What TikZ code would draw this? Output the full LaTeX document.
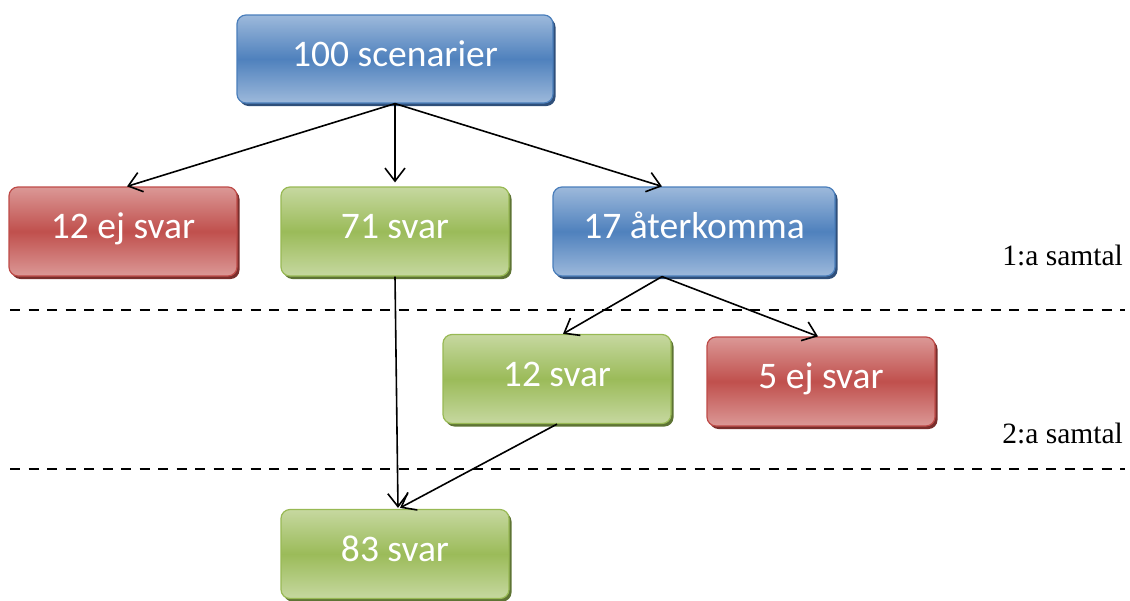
\documentclass[tikz,border=0pt]{standalone}
\usepackage{fontspec}
\setmainfont{Carlito}
\newfontfamily\timesf{Liberation Serif}
\usetikzlibrary{arrows.meta,shadows,calc}
\definecolor{bLight}{HTML}{9DB9DB}
\definecolor{bMid}{HTML}{4F81BD}
\definecolor{bBorder}{HTML}{4A7EBB}
\definecolor{bShadow}{HTML}{2F4F7A}
\definecolor{rLight}{HTML}{DB9896}
\definecolor{rMid}{HTML}{C0504D}
\definecolor{rBorder}{HTML}{BE4B48}
\definecolor{rShadow}{HTML}{7A2E2C}
\definecolor{gLight}{HTML}{C6D8A0}
\definecolor{gMid}{HTML}{9BBB59}
\definecolor{gBorder}{HTML}{98B954}
\definecolor{gShadow}{HTML}{5E7434}
\tikzset{
  box/.style={rounded corners=9pt, minimum height=89pt, minimum width=228pt, inner sep=0pt,
    text=white, font=\fontsize{37.5}{40}\selectfont, text height=25pt, text depth=11pt, line width=1.2pt},
  bluebox/.style={box, draw=bBorder, top color=bLight, bottom color=bLight, middle color=bMid,
    drop shadow={shadow xshift=2.5pt, shadow yshift=-3pt, fill=bShadow, opacity=1}},
  redbox/.style={box, draw=rBorder, top color=rLight, bottom color=rLight, middle color=rMid,
    drop shadow={shadow xshift=2.5pt, shadow yshift=-3pt, fill=rShadow, opacity=1}},
  greenbox/.style={box, draw=gBorder, top color=gLight, bottom color=gLight, middle color=gMid,
    drop shadow={shadow xshift=2.5pt, shadow yshift=-3pt, fill=gShadow, opacity=1}},
  conn/.style={line width=1.6pt, -{Straight Barb[length=13pt,width=20pt,line width=1.6pt]}},
  sep/.style={line width=2.5pt, dash pattern=on 10pt off 8.5pt},
  lbl/.style={font=\timesf\fontsize{29.5}{32}\selectfont, anchor=base east, inner sep=0pt}
}
\begin{document}
\begin{tikzpicture}[x=1pt,y=-1pt]
\useasboundingbox (0,0) rectangle (1130,600);
% separators
\coordinate (s1a) at (10,310); \coordinate (s1b) at (1125,310);
\coordinate (s2a) at (10,469); \coordinate (s2b) at (1125,469);
\draw[sep] (s1a) -- (s1b);
\draw[sep] (s2a) -- (s2b);
% boxes
\node[bluebox, minimum width=316pt, minimum height=88pt] (n100) at (395,59) {100 scenarier};
\node[redbox] (ej12) at (123,231.5) {12 ej svar};
\node[greenbox] (sv71) at (395,231.5) {71 svar};
\node[bluebox, minimum width=282pt] (at17) at (694,231.5) {17 återkomma};
\node[greenbox] (sv12) at (557,379) {12 svar};
\node[redbox] (ej5) at (821,381.5) {5 ej svar};
\node[greenbox] (sv83) at (395,554) {83 svar};
% labels
\node[lbl] (l1) at (1123,265) {1:a samtal};
\node[lbl] (l2) at (1123,443) {2:a samtal};
% connector end points
\coordinate (t1) at ([xshift=4pt]ej12.north);
\coordinate (t2) at ([yshift=4pt]sv71.north);
\coordinate (t3) at ([xshift=-32pt]at17.north);
\coordinate (f17) at ([xshift=-32pt]at17.south);
\coordinate (t4) at ([xshift=6pt]sv12.north);
\coordinate (t5) at ([xshift=-3pt]ej5.north);
\coordinate (t6) at ([xshift=3pt,yshift=1pt]sv83.north);
\coordinate (t7) at ([xshift=5pt,yshift=1pt]sv83.north);
\draw[conn] (n100.south) -- (t1);
\draw[conn] (n100.south) -- (t2);
\draw[conn] (n100.south) -- (t3);
\draw[conn] (f17) -- (t4);
\draw[conn] (f17) -- (t5);
\draw[conn] (sv71.south) -- (t6);
\draw[conn] (sv12.south) -- (t7);
\end{tikzpicture}
\end{document}
